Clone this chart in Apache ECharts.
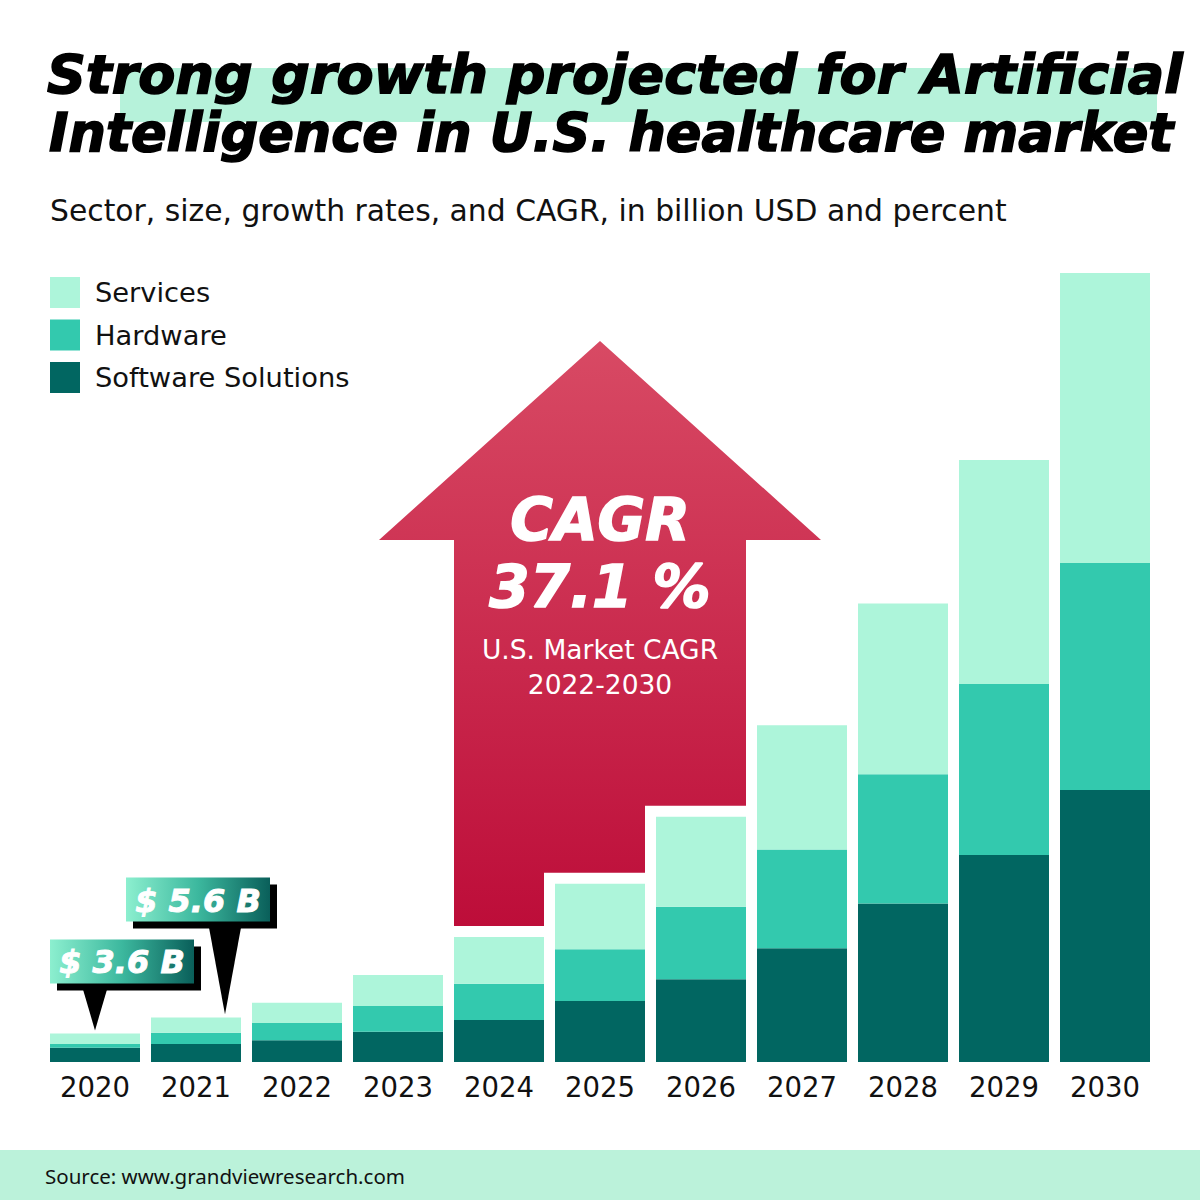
<!DOCTYPE html>
<html>
<head>
<meta charset="utf-8">
<script src="https://cdn.jsdelivr.net/npm/echarts@6/dist/echarts.min.js"></script>
<style>html,body{margin:0;padding:0;background:#fff}#c{width:1200px;height:1200px}</style>
</head>
<body>
<div id="c"></div>
<script>
// ---- data (billion USD) ----
const years = ['2020','2021','2022','2023','2024','2025','2026','2027','2028','2029','2030'];
const software = [1.80, 2.27, 2.73, 3.82, 5.29, 7.68, 10.42, 14.32, 19.95, 26.07, 34.26];
const hardware = [0.46, 1.42, 2.18, 3.24, 4.58, 6.51, 9.14, 12.43, 16.28, 21.54, 28.59];
const services = [1.34, 1.91, 2.56, 3.90, 5.87, 8.26, 11.34, 15.65, 21.50, 28.21, 36.52];
const seriesNames = ['Software Solutions', 'Hardware', 'Services'];
const legendOrder = ['Services', 'Hardware', 'Software Solutions'];
const calloutYears = ['2020', '2021'];
const calloutTexts = ['$ 3.6 B', '$ 5.6 B'];
const cagrYears = ['2024', '2025', '2026'];
const cagrTitle = 'CAGR';
const cagrValue = '37.1 %';
const cagrNote = ['U.S. Market CAGR', '2022-2030'];
const titleLines = ['Strong growth projected for Artificial', 'Intelligence in U.S. healthcare market'];
const subtitleText = 'Sector, size, growth rates, and CAGR, in billion USD and percent';
const sourceText = 'Source: www.grandviewresearch.com';

const totals = years.map((_, i) => software[i] + hardware[i] + services[i]);

const COLORS = { software: '#016661', hardware: '#33c9ae', services: '#adf5da' };
const BODY = '"DejaVu Sans", "Noto Sans", sans-serif';
const HEAVY = '"DejaVu Sans", "Noto Sans", sans-serif';
const BAR_W = 90;

const chart = echarts.init(document.getElementById('c'), null, { renderer: 'svg' });

const titleBase = { fontFamily: HEAVY, fontWeight: 'bold', fontStyle: 'italic', color: '#000', textBorderColor: '#000', textBorderWidth: 1.6 };
const option = {
  backgroundColor: '#ffffff',
  animation: false,
  title: [
    { text: titleLines[0], left: 47, top: 47, padding: 0, textStyle: Object.assign({ fontSize: 54, lineHeight: 54 }, titleBase) },
    { text: titleLines[1], left: 49, top: 106, padding: 0, textStyle: Object.assign({ fontSize: 52.5, lineHeight: 52 }, titleBase) },
    { text: subtitleText, left: 50, top: 193, padding: 0,
      textStyle: { fontFamily: BODY, fontSize: 29.8, fontWeight: 'normal', color: '#111', lineHeight: 34 } }
  ],
  legend: {
    data: legendOrder, orient: 'vertical', left: 45, top: 272,
    itemWidth: 30, itemHeight: 31, itemGap: 11.5, icon: 'rect', selectedMode: false,
    textStyle: { fontFamily: BODY, fontSize: 27.3, color: '#111', padding: [0, 0, 0, 10] }
  },
  grid: { left: 44.5, right: 44.5, top: 268, bottom: 138, containLabel: false },
  xAxis: {
    type: 'category', data: years,
    axisLine: { show: false }, axisTick: { show: false },
    axisLabel: { fontFamily: BODY, fontSize: 27.5, color: '#111', margin: 11 }
  },
  yAxis: { type: 'value', min: 0, max: 100, show: false, splitLine: { show: false } },
  series: [
    { name: seriesNames[0], type: 'bar', stack: 'total', data: software, barWidth: BAR_W, silent: true, z: 3,
      itemStyle: { color: COLORS.software } },
    { name: seriesNames[1], type: 'bar', stack: 'total', data: hardware, barWidth: BAR_W, silent: true, z: 3,
      itemStyle: { color: COLORS.hardware } },
    { name: seriesNames[2], type: 'bar', stack: 'total', data: services, barWidth: BAR_W, silent: true, z: 3,
      itemStyle: { color: COLORS.services } }
  ]
};
chart.setOption(option);

// ---- annotations positioned from the chart's own scales ----
const P = (i, v) => chart.convertToPixel({ gridIndex: 0 }, [i, v]);
const band = P(1, 0)[0] - P(0, 0)[0];
const gap = band - BAR_W;
const pad = gap; // white margin between arrow and bars

// Arrow
const idx = cagrYears.map(y => years.indexOf(y));
const cx0 = P(idx[0], 0)[0], cx2 = P(idx[2], 0)[0];
const leftX = cx0 - BAR_W / 2, rightX = cx2 + BAR_W / 2;
const midX = (leftX + rightX) / 2;
const apexY = 341, headY = 540, headHalf = 221;
const pts = [[midX, apexY], [midX + headHalf, headY], [rightX, headY]];
for (let k = idx.length - 1; k >= 0; k--) {
  const i = idx[k];
  const c = P(i, totals[i]);
  const yb = c[1] - pad;
  const xr = (k === idx.length - 1) ? rightX : (P(idx[k + 1], 0)[0] - BAR_W / 2 - gap);
  const xl = (k === 0) ? leftX : (c[0] - BAR_W / 2 - gap);
  pts.push([xr, yb]);
  pts.push([xl, yb]);
}
pts.push([leftX, headY], [midX - headHalf, headY]);

const graphics = [];
// title highlight band
graphics.push({ type: 'rect', z: -10, shape: { x: 120, y: 68, width: 1037, height: 54 }, style: { fill: '#b6f2da' } });
// source band
graphics.push({ type: 'rect', z: -10, shape: { x: 0, y: 1150, width: 1200, height: 50 }, style: { fill: '#bbf2da' } });
graphics.push({ type: 'text', z: 10, x: 45, y: 1176, style: { text: sourceText, fontFamily: '"Noto Sans", sans-serif', fontSize: 20.5, fill: '#111', verticalAlign: 'middle' } });

graphics.push({ type: 'polygon', z: 1, shape: { points: pts },
  style: { fill: new echarts.graphic.LinearGradient(0, 0, 0, 1, [
    { offset: 0, color: '#d84a64' }, { offset: 1, color: '#bd0d39' }]) } });
const bigStyle = { fontFamily: HEAVY, fontSize: 58, fontWeight: 'bold', fontStyle: 'italic', fill: '#fff', stroke: '#fff', lineWidth: 1.6, align: 'center', verticalAlign: 'middle', lineHeight: 60 };
graphics.push({ type: 'text', z: 10, x: midX, y: 520, style: Object.assign({ text: cagrTitle }, bigStyle) });
graphics.push({ type: 'text', z: 10, x: midX, y: 587, style: Object.assign({ text: cagrValue }, bigStyle) });
graphics.push({ type: 'text', z: 10, x: midX, y: 649, style: { text: cagrNote[0], fontFamily: BODY, fontSize: 26.5, fill: '#fff', align: 'center', verticalAlign: 'middle' } });
graphics.push({ type: 'text', z: 10, x: midX, y: 684, style: { text: cagrNote[1], fontFamily: BODY, fontSize: 26.5, fill: '#fff', align: 'center', verticalAlign: 'middle' } });

// Callouts (layout offsets only)
const calloutLayout = [
  { boxDx: 0, rise: 94, tipDx: 0, baseHalf: 12 },
  { boxDx: -25, rise: 140, tipDx: 29, baseHalf: 16 }
];
calloutYears.forEach((y, n) => {
  const i = years.indexOf(y);
  const c = P(i, totals[i]);
  const L = calloutLayout[n];
  const bx = c[0] - BAR_W / 2 + L.boxDx, by = c[1] - L.rise, bw = 144, bh = 44;
  const tipX = c[0] + L.tipDx, tipY = c[1] - 3;
  graphics.push({ type: 'polygon', z: 5, shape: { points: [[tipX - L.baseHalf, by + bh + 6], [tipX + L.baseHalf, by + bh + 6], [tipX, tipY]] }, style: { fill: '#000' } });
  graphics.push({ type: 'rect', z: 5, shape: { x: bx + 7, y: by + 7, width: bw, height: bh }, style: { fill: '#000' } });
  graphics.push({ type: 'rect', z: 6, shape: { x: bx, y: by, width: bw, height: bh },
    style: { fill: new echarts.graphic.LinearGradient(0, 0, 1, 0, [
      { offset: 0, color: '#8cefcf' }, { offset: 0.5, color: '#3cb89e' }, { offset: 1, color: '#0a5f5a' }]) } });
  graphics.push({ type: 'text', z: 7, x: bx + bw / 2, y: by + bh / 2 + 1, style: { text: calloutTexts[n], fontFamily: HEAVY, fontSize: 32, fontWeight: 'bold', fontStyle: 'italic', fill: '#fff', stroke: '#fff', lineWidth: 1, align: 'center', verticalAlign: 'middle' } });
});

chart.setOption({ graphic: { elements: graphics } });
</script>
</body>
</html>
